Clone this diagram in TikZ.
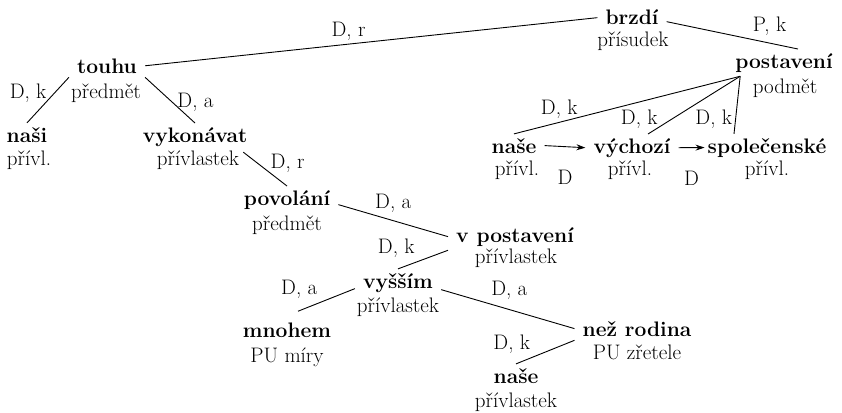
\documentclass[tikz,border=0pt]{standalone}
\usepackage{tikz}
\usetikzlibrary{arrows.meta, positioning}

\tikzset{
	slovo/.style={font=\bfseries, anchor=base, inner xsep=8pt, inner ysep=4pt},
	funkce/.style={anchor=base, inner sep=2pt},
	hrana/.style={draw, line width=0.9pt},
	sipka/.style={draw, line width=0.9pt, -{Stealth[length=9pt, width=6pt]}},
	popis/.style={inner sep=3pt}
}

\begin{document}
\fontsize{21}{24}\selectfont
\begin{tikzpicture}[x=1pt, y=-1pt]
			\useasboundingbox (0,0) rectangle (842,412);
			% slova a vetne cleny
			\node [slovo] (brzdi) at (632,25) {brzdí};
			\node [funkce] (brzdiF) at (633,47) {přísudek};
			\node [slovo] (touhu) at (107,73) {touhu};
			\node [funkce] (touhuF) at (106,98) {předmět};
			\node [slovo] (nasi) at (27,142) {naši};
			\node [funkce] (nasiF) at (29,165) {přívl.};
			\node [slovo] (vykon) at (195,142) {vykonávat};
			\node [funkce] (vykonF) at (198,165) {přívlastek};
			\node [slovo] (povol) at (287,205) {povolání};
			\node [funkce] (povolF) at (287,230) {předmět};
			\node [slovo] (vpost) at (515,242) {v postavení};
			\node [funkce] (vpostF) at (516,263) {přívlastek};
			\node [slovo] (vyssim) at (398,288) {vyšším};
			\node [funkce] (vyssimF) at (398,312) {přívlastek};
			\node [slovo] (mnohem) at (287,337) {mnohem};
			\node [funkce] (mnohemF) at (287,362) {PU míry};
			\node [slovo] (nrod) at (637,336) {než rodina};
			\node [funkce] (nrodF) at (637,359) {PU zřetele};
			\node [slovo] (naseB) at (516,383) {naše};
			\node [funkce] (naseBF) at (516,407) {přívlastek};
			%%
			\node [slovo] (post) at (784,68) {postavení};
			\node [funkce] (postF) at (785,93) {podmět};
			\node [slovo] (naseR) at (514,153) {naše};
			\node [funkce] (naseRF) at (517,175) {přívl.};
			\node [slovo] (vych) at (632,153) {výchozí};
			\node [funkce] (vychF) at (630,175) {přívl.};
			\node [slovo] (spol) at (767,153) {společenské};
			\node [funkce] (spolF) at (767,175) {přívl.};
			
			% hrany
			\draw [hrana] (touhu.east) -- node [popis, pos=0.45, above] {D, r} (brzdi.west);
			\draw [hrana] ([yshift=-4pt]brzdi.east) -- node [popis, pos=0.63, above right] {P, k} ([xshift=14pt]post.north);
			\draw [hrana] (touhu.south west) -- node [popis, pos=0.36, left=4pt] {D, k} (nasi.north);
			\draw [hrana] (touhu.south east) -- node [popis, pos=0.54, right=2pt] {D, a} (vykon.north);
			\draw [hrana] ([shift={(2pt,-4pt)}]vykonF.north east) -- node [popis, pos=0.32, right=10pt] {D, r} (povol.north);
			\draw [hrana] ([yshift=-5pt]povol.east) -- node [popis, pos=0.5, above=5pt] {D, a} (vpost.west);
			\draw [hrana] (vpost.south west) -- node [popis, pos=0.6, above left] {D, k} (vyssim.north);
			\draw [hrana] ([yshift=-6pt]vyssim.west) -- node [popis, pos=0.6, above left] {D, a} ([shift={(11pt,7pt)}]mnohem.north);
			\draw [hrana] ([yshift=-7pt]vyssim.east) -- node [popis, pos=0.35, above right] {D, a} (nrod.west);
			\draw [hrana] (nrod.south west) -- node [popis, pos=0.7, above left] {D, k} (naseB.north);
			%%
			\coordinate (postA) at ([xshift=13pt]post.south west);
			\draw [hrana] (postA) -- node [popis, pos=0.8, above] {D, k} (naseR.north);
			\draw [hrana] (postA) -- node [popis, pos=0.75, left=10pt] {D, k} ([xshift=16pt]vych.north);
			\draw [hrana] (postA) -- node [popis, pos=0.75, left] {D, k} ([xshift=-33pt]spol.north);
			\draw [sipka] (naseR.east) -- node [popis, midway, yshift=-31pt] {D} (vych.west);
			\draw [sipka] (vych.east) -- node [popis, midway, yshift=-31pt] {D} ([xshift=5pt]spol.west);
\end{tikzpicture}
\end{document}
